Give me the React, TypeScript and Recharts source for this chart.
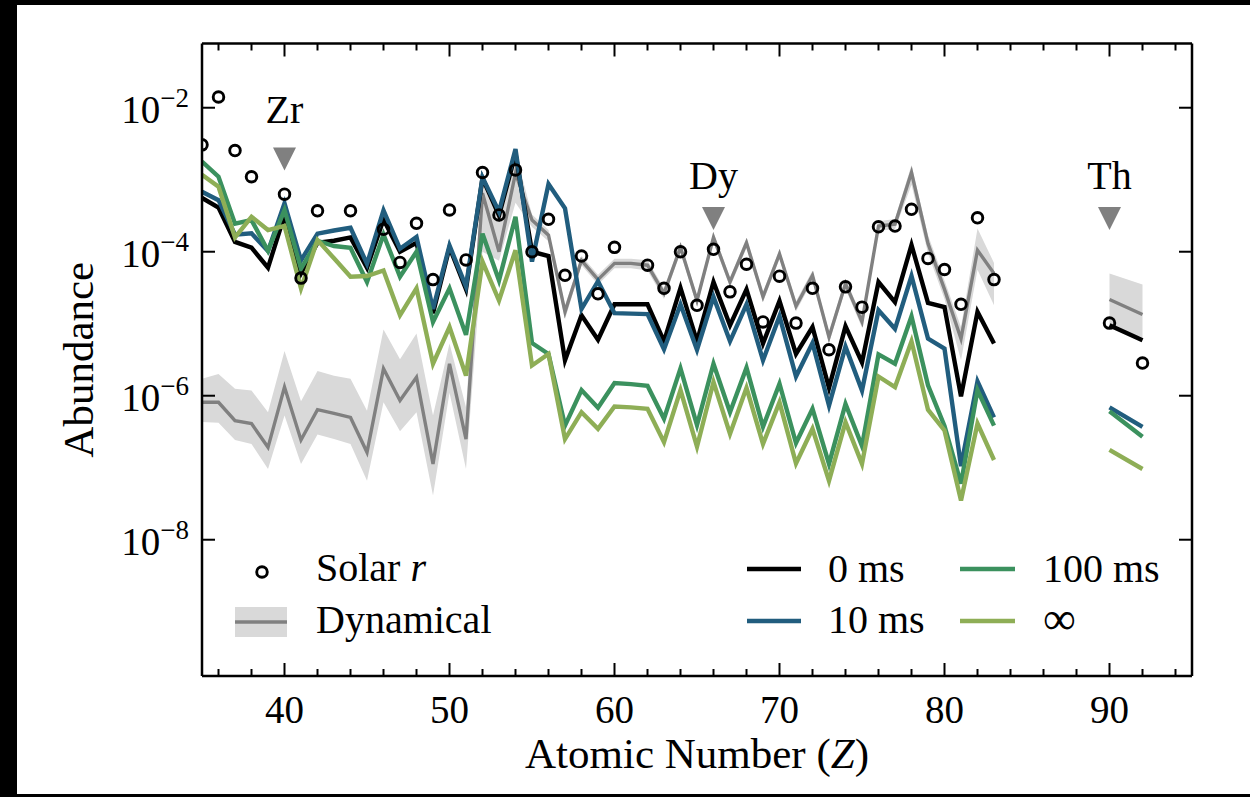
import React from 'react';
import { ComposedChart, Line, Area, Scatter, XAxis, YAxis } from 'recharts';

// atomic numbers shared by all model curves
const Z = [
  35, 36, 37, 38, 39, 40, 41, 42, 43, 44, 45, 46, 47, 48, 49, 50, 51, 52, 53, 54, 55, 56, 57, 58, 59,
  60, 61, 62, 63, 64, 65, 66, 67, 68, 69, 70, 71, 72, 73, 74, 75, 76, 77, 78, 79, 80, 81, 82, 83, 90, 92,
];

const zeroMs = [
  5.6e-4, 4.1e-4, 1.37e-4, 1.14e-4, 6.0e-5, 3.2e-4, 5.0e-5, 1.33e-4, 1.42e-4, 1.58e-4, 6.0e-5, 2.8e-4, 1.0e-4,
  1.33e-4, 1.4e-5, 1.15e-4, 3.0e-5, 1.05e-3, 3.2e-4, 2.3e-3, 1.0e-4, 8.7e-5, 3.1e-6, 1.31e-5, 6.0e-6,
  1.86e-5, 1.86e-5, 1.86e-5, 5.7e-6, 3.15e-5, 5.7e-6, 3.8e-5, 9.5e-6, 3.0e-5, 5.3e-6, 2.07e-5, 3.8e-6, 9.0e-6,
  1.29e-6, 9.2e-6, 2.9e-6, 3.8e-5, 2.0e-5, 1.24e-4, 1.95e-5, 1.7e-5, 9.8e-7, 1.46e-5, 5.3e-6, 9.5e-6, 5.9e-6,
];

const tenMs = [
  6.8e-4, 5.2e-4, 1.72e-4, 1.8e-4, 1.02e-4, 4.7e-4, 7.6e-5, 1.78e-4, 1.97e-4, 2.15e-4, 6.8e-5, 3.75e-4, 1.1e-4,
  1.6e-4, 1.6e-5, 1.22e-4, 3.3e-5, 1.08e-3, 3.6e-4, 2.66e-3, 7.3e-5, 8.7e-4, 4.0e-4, 1.6e-5, 3.9e-5,
  1.4e-5, 1.38e-5, 1.36e-5, 4.4e-6, 1.86e-5, 4.35e-6, 2.36e-5, 5.7e-6, 1.86e-5, 3.1e-6, 1.27e-5, 1.85e-6, 5.4e-6,
  7.3e-7, 4.8e-6, 1.18e-6, 1.54e-5, 8.5e-6, 4.6e-5, 6.2e-6, 4.5e-6, 1.05e-7, 1.58e-6, 5.0e-7, 6.9e-7, 3.7e-7,
];

const hundredMs = [
  1.79e-3, 1.1e-3, 2.45e-4, 2.75e-4, 1.03e-4, 3.8e-4, 5.8e-5, 1.42e-4, 1.2e-4, 1.13e-4, 3.8e-5, 1.73e-4, 4.5e-5,
  1.0e-4, 1.06e-5, 3.1e-5, 7.0e-6, 1.78e-4, 4.0e-5, 3.06e-4, 5.4e-6, 3.8e-6, 3.85e-7, 1.2e-6, 6.8e-7,
  1.5e-6, 1.45e-6, 1.37e-6, 4.8e-7, 2.4e-6, 3.9e-7, 2.78e-6, 5.9e-7, 2.45e-6, 3.7e-7, 1.47e-6, 2.2e-7, 6.6e-7,
  1.13e-7, 7.7e-7, 2.0e-7, 3.75e-6, 2.78e-6, 1.27e-5, 1.4e-6, 3.8e-7, 6.0e-8, 1.2e-6, 3.85e-7, 6.1e-7, 2.7e-7,
];

const infinite = [
  1.17e-3, 8.0e-4, 1.58e-4, 3.06e-4, 2.0e-4, 2.28e-4, 3.1e-5, 1.45e-4, 8.1e-5, 4.5e-5, 4.6e-5, 5.5e-5, 1.31e-5,
  3.1e-5, 2.78e-6, 9.0e-6, 1.9e-6, 7.3e-5, 2.1e-5, 1.05e-4, 2.63e-6, 3.8e-6, 2.5e-7, 5.9e-7, 3.47e-7,
  7.1e-7, 6.9e-7, 6.6e-7, 2.26e-7, 1.2e-6, 1.96e-7, 1.55e-6, 2.95e-7, 1.29e-6, 2.14e-7, 8.1e-7, 1.15e-7, 3.47e-7,
  6.6e-8, 4.3e-7, 1.13e-7, 1.85e-6, 1.32e-6, 5.7e-6, 6.4e-7, 3.3e-7, 3.5e-8, 4.1e-7, 1.28e-7, 1.77e-7, 9.6e-8,
];

const dynamical = [
  8.1e-7, 8.1e-7, 4.5e-7, 4.1e-7, 1.92e-7, 1.32e-6, 2.43e-7, 6.4e-7, 5.7e-7, 5.0e-7, 1.64e-7, 2.38e-6, 8.6e-7,
  1.81e-6, 1.13e-7, 2.78e-6, 2.5e-7, 6.5e-4, 1.0e-4, 1.23e-3, 2.75e-4, 1.7e-4, 1.46e-5, 7.6e-5, 4.1e-5,
  6.9e-5, 6.9e-5, 6.5e-5, 2.65e-5, 1.15e-4, 2.1e-5, 1.58e-4, 3.8e-5, 1.33e-4, 2.36e-5, 9.3e-5, 1.75e-5, 4.7e-5,
  6.5e-6, 3.6e-5, 1.06e-5, 2.28e-4, 2.42e-4, 1.26e-3, 1.3e-4, 3.0e-5, 6.2e-6, 1.05e-4, 5.0e-5, 2.17e-5, 1.34e-5,
];

const dynamicalLow = [
  4.3e-7, 4.2e-7, 2.43e-7, 2.14e-7, 9.6e-8, 5.3e-7, 1.13e-7, 2.9e-7, 2.5e-7, 2.14e-7, 6.6e-8, 8.1e-7, 3.2e-7,
  5.9e-7, 4.1e-8, 1.1e-6, 9.6e-8, 1.0e-4, 7.5e-5, 4.8e-4, 2.2e-4, 1.4e-4, 1.15e-5, 6.5e-5, 3.5e-5,
  5.9e-5, 5.9e-5, 5.5e-5, 2.2e-5, 9.8e-5, 1.75e-5, 1.35e-4, 3.2e-5, 1.13e-4, 2.0e-5, 7.9e-5, 1.48e-5, 4.0e-5,
  5.4e-6, 3.05e-5, 8.8e-6, 1.95e-4, 2.05e-4, 8.5e-4, 9.5e-5, 2.2e-5, 3.1e-6, 5.6e-5, 1.8e-5, 8.6e-6, 6.5e-6,
];

const dynamicalHigh = [
  1.72e-6, 2.0e-6, 1.25e-6, 1.18e-6, 5.9e-7, 4.17e-6, 8.4e-7, 2.2e-6, 1.9e-6, 1.72e-6, 6.2e-7, 8.3e-6, 3.2e-6,
  7.3e-6, 5.3e-7, 5.3e-6, 6.9e-7, 1.2e-3, 4.0e-4, 2.4e-3, 3.3e-4, 2.0e-4, 1.8e-5, 8.8e-5, 4.8e-5,
  8.0e-5, 8.0e-5, 7.6e-5, 3.1e-5, 1.33e-4, 2.45e-5, 1.85e-4, 4.4e-5, 1.55e-4, 2.75e-5, 1.08e-4, 2.05e-5, 5.5e-5,
  7.7e-6, 4.2e-5, 1.25e-5, 2.65e-4, 2.85e-4, 1.6e-3, 1.7e-4, 4.0e-5, 9.0e-6, 2.1e-4, 7.0e-5, 5.0e-5, 3.5e-5,
];

// solar r-process residuals
const solarZ = [
  35, 36, 37, 38, 40, 41, 42, 44, 46, 47, 48, 49, 50, 51, 52, 53, 54, 55, 56, 57, 58, 59, 60, 62, 63, 64,
  65, 66, 67, 68, 69, 70, 71, 72, 73, 74, 75, 76, 77, 78, 79, 80, 81, 82, 83, 90, 92,
];
const solarR = [
  3.05e-3, 1.41e-2, 2.54e-3, 1.1e-3, 6.3e-4, 4.3e-5, 3.7e-4, 3.7e-4, 2.05e-4, 7.1e-5, 2.48e-4, 4.1e-5, 3.8e-4,
  7.7e-5, 1.26e-3, 3.24e-4, 1.37e-3, 1.0e-4, 2.82e-4, 4.7e-5, 8.7e-5, 2.6e-5, 1.15e-4, 6.5e-5, 3.1e-5, 1.0e-4,
  1.8e-5, 1.08e-4, 2.77e-5, 6.7e-5, 1.06e-5, 4.57e-5, 1.02e-5, 3.1e-5, 4.35e-6, 3.25e-5, 1.7e-5, 2.22e-4,
  2.27e-4, 3.88e-4, 8.07e-5, 5.66e-5, 1.86e-5, 2.96e-4, 4.1e-5, 1.02e-5, 2.84e-6,
];

// highlighted elements
const markElements = ['Zr', 'Dy', 'Th'];
const markZ = [40, 66, 90];
const markAt = [1.94e-3, 2.9e-4, 2.9e-4];
const markLabelAt = [6.1e-3, 7.4e-4, 7.4e-4];

const xTicks = [36, 38, 40, 42, 44, 46, 48, 50, 52, 54, 56, 58, 60, 62, 64, 66, 68, 70, 72, 74, 76, 78, 80, 82, 84, 86, 88, 90, 92, 94];
const yTicks = [1e-8, 1e-6, 1e-4, 1e-2];

const FONT = "'Liberation Serif', 'DejaVu Serif', serif";
const C_ZERO = '#000000';
const C_TEN = '#215d7e';
const C_HUNDRED = '#3b915e';
const C_INF = '#8eae56';
const C_DYN = '#808080';
const C_BAND = '#d9d9d9';

const rows: any[] = [];
Z.forEach((z, i) => {
  if (z === 90) rows.push({ z: 86 }); // break the curves between Bi and Th
  rows.push({
    z,
    zero: zeroMs[i],
    ten: tenMs[i],
    hundred: hundredMs[i],
    inf: infinite[i],
    dyn: dynamical[i],
    band: [dynamicalLow[i], dynamicalHigh[i]],
  });
});
const solarPts = solarZ.map((z, i) => ({ z, v: solarR[i] }));
const marks = markZ.map((z, i) => ({ z, v: markAt[i], name: markElements[i] }));
const markLabels = markZ.map((z, i) => ({ z, v: markLabelAt[i], name: markElements[i] }));

const XTick = (props: any) => {
  const { x, y, payload, side } = props;
  const major = payload.value % 10 === 0;
  const len = major ? 13 : 7;
  const dir = side === 'bottom' ? -1 : 1;
  return (
    <g>
      <line x1={x} y1={y} x2={x} y2={y + dir * len} stroke="#000" strokeWidth={2} />
      {side === 'bottom' && major && (
        <text x={x} y={y + 47} textAnchor="middle" fontFamily={FONT} fontSize={39} fill="#000">
          {payload.value}
        </text>
      )}
    </g>
  );
};

const YTick = (props: any) => {
  const { x, y, payload, side } = props;
  const dir = side === 'left' ? 1 : -1;
  const exp = Math.round(Math.log10(payload.value));
  return (
    <g>
      <line x1={x} y1={y} x2={x + dir * 13} y2={y} stroke="#000" strokeWidth={2} />
      {side === 'left' && (
        <text x={x - 13} y={y + 15} textAnchor="end" fontFamily={FONT} fontSize={39} fill="#000">
          10
          <tspan dy={-16} fontSize={27}>{`\u2212${Math.abs(exp)}`}</tspan>
        </text>
      )}
    </g>
  );
};

const SolarDot = (p: any) => <circle cx={p.cx} cy={p.cy} r={5.3} fill="none" stroke="#000" strokeWidth={2.9} />;

const MarkTriangle = (p: any) => (
  <path
    d={`M${p.cx - 11.5},${p.cy - 11.5} L${p.cx + 11.5},${p.cy - 11.5} L${p.cx},${p.cy + 11.5} Z`}
    fill={C_DYN}
  />
);

const MarkText = (p: any) => (
  <text x={p.cx} y={p.cy} textAnchor="middle" fontFamily={FONT} fontSize={40} fill="#000">
    {p.payload.name}
  </text>
);

const lineProps = { dot: false, isAnimationActive: false, xAxisId: 'b', yAxisId: 'l', strokeWidth: 4.4 } as const;

function LegendLayer() {
  const txt = { fontFamily: FONT, fontSize: 40, fill: '#000' };
  return (
    <svg width={1250} height={797} style={{ position: 'absolute', left: 0, top: 0, pointerEvents: 'none' }}>
      <circle cx={262} cy={572} r={5.3} fill="none" stroke="#000" strokeWidth={2.9} />
      <text x={316} y={581} {...txt}>
        Solar <tspan fontStyle="italic">r</tspan>
      </text>
      <rect x={235} y={607} width={52} height={30} fill={C_BAND} />
      <line x1={235} y1={622} x2={287} y2={622} stroke={C_DYN} strokeWidth={3.4} />
      <text x={316} y={633} {...txt}>Dynamical</text>

      <line x1={747} y1={569} x2={801} y2={569} stroke={C_ZERO} strokeWidth={4.4} />
      <text x={828} y={582} {...txt}>0 ms</text>
      <line x1={747} y1={621} x2={801} y2={621} stroke={C_TEN} strokeWidth={4.4} />
      <text x={828} y={633} {...txt}>10 ms</text>
      <line x1={960} y1={569} x2={1015} y2={569} stroke={C_HUNDRED} strokeWidth={4.4} />
      <text x={1043} y={582} {...txt}>100 ms</text>
      <line x1={960} y1={621} x2={1015} y2={621} stroke={C_INF} strokeWidth={4.4} />
      <text x={1043} y={634} {...txt} fontSize={46}>{'\u221E'}</text>
    </svg>
  );
}

export default function App() {
  return (
    <div style={{ position: 'absolute', left: 0, top: 0, width: 1250, height: 797, background: '#000' }}>
      <div style={{ position: 'absolute', left: 17, top: 5, width: 1233, height: 789, background: '#fff' }} />
      <div style={{ position: 'absolute', left: 0, top: 0 }}>
        <ComposedChart width={1250} height={797} data={rows} margin={{ top: 42.5, right: 57, bottom: 0, left: 0 }}>
          <XAxis
            xAxisId="b"
            dataKey="z"
            type="number"
            domain={[35, 95]}
            allowDataOverflow
            ticks={xTicks}
            interval={0}
            height={121}
            tickSize={0}
            tickMargin={0}
            tickLine={false}
            axisLine={{ stroke: '#000', strokeWidth: 2.5 }}
            tick={<XTick side="bottom" />}
            label={{
              position: 'insideBottom',
              content: (p: any) => {
                const vb = p.viewBox;
                return (
                  <text x={vb.x + vb.width / 2} y={vb.y + 92} textAnchor="middle" fontFamily={FONT} fontSize={43} fill="#000">
                    Atomic Number (<tspan fontStyle="italic">Z</tspan>)
                  </text>
                );
              },
            }}
          />
          <XAxis
            xAxisId="t"
            orientation="top"
            dataKey="z"
            type="number"
            domain={[35, 95]}
            allowDataOverflow
            ticks={xTicks}
            interval={0}
            height={1}
            tickSize={0}
            tickMargin={0}
            tickLine={false}
            axisLine={{ stroke: '#000', strokeWidth: 2.5 }}
            tick={<XTick side="top" />}
          />
          <YAxis
            yAxisId="l"
            type="number"
            scale="log"
            domain={[1.28e-10, 7.8e-2]}
            allowDataOverflow
            ticks={yTicks}
            interval={0}
            width={202}
            tickSize={0}
            tickMargin={0}
            tickLine={false}
            axisLine={{ stroke: '#000', strokeWidth: 2.5 }}
            tick={<YTick side="left" />}
            label={{
              position: 'insideLeft',
              content: (p: any) => {
                const vb = p.viewBox;
                const cy = vb.y + vb.height / 2;
                return (
                  <text
                    x={93}
                    y={cy}
                    transform={`rotate(-90, 93, ${cy})`}
                    textAnchor="middle"
                    fontFamily={FONT}
                    fontSize={43}
                    fill="#000"
                  >
                    Abundance
                  </text>
                );
              },
            }}
          />
          <YAxis
            yAxisId="r"
            orientation="right"
            type="number"
            scale="log"
            domain={[1.28e-10, 7.8e-2]}
            allowDataOverflow
            ticks={yTicks}
            interval={0}
            width={1}
            tickSize={0}
            tickMargin={0}
            tickLine={false}
            axisLine={{ stroke: '#000', strokeWidth: 2.5 }}
            tick={<YTick side="right" />}
          />

          <Area
            xAxisId="b"
            yAxisId="l"
            dataKey="band"
            stroke="none"
            fill={C_BAND}
            fillOpacity={1}
            isAnimationActive={false}
          />
          <Line {...lineProps} dataKey="dyn" stroke={C_DYN} strokeWidth={3.4} />
          <Line {...lineProps} dataKey="zero" stroke={C_ZERO} />
          <Line {...lineProps} dataKey="ten" stroke={C_TEN} />
          <Line {...lineProps} dataKey="hundred" stroke={C_HUNDRED} />
          <Line {...lineProps} dataKey="inf" stroke={C_INF} />
          <Scatter xAxisId="b" yAxisId="l" data={solarPts} dataKey="v" shape={SolarDot} isAnimationActive={false} />
          <Scatter xAxisId="b" yAxisId="l" data={marks} dataKey="v" shape={MarkTriangle} isAnimationActive={false} />
          <Scatter xAxisId="b" yAxisId="l" data={markLabels} dataKey="v" shape={MarkText} isAnimationActive={false} />
        </ComposedChart>
      </div>
      <LegendLayer />
    </div>
  );
}
